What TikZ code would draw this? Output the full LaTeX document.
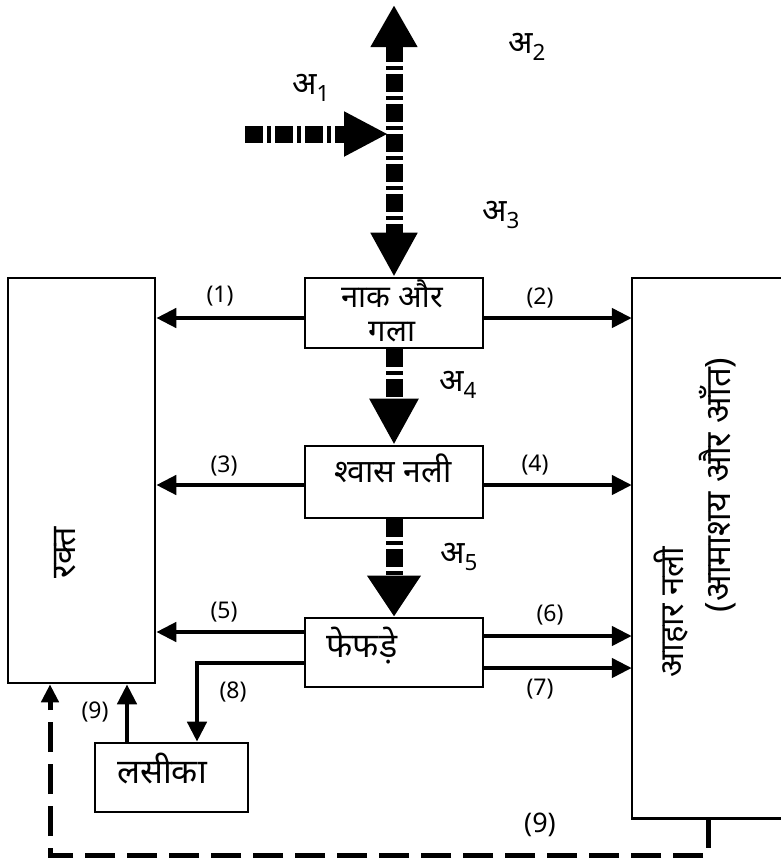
\documentclass[tikz,border=0pt]{standalone}
\usepackage{fontspec}
\newfontfamily\hindi[Script=Devanagari]{Noto Sans}
\usetikzlibrary{arrows.meta,calc}

\begin{document}
\begin{tikzpicture}[x=1pt,y=-1pt,
    box/.style={draw,line width=2.6pt,inner sep=0pt},
    boxline/.style={line width=2.6pt},
    word/.style={font=\hindi\fontsize{31}{38}\selectfont,inner sep=0pt},
    num/.style={font=\hindi\fontsize{23}{26}\selectfont,inner sep=0pt},
    sym/.style={font=\hindi\fontsize{32}{36}\selectfont,inner sep=0pt},
    flow/.style={line width=4.5pt,-{Triangle[length=20pt,width=19pt]}},
    airflow/.style={line width=17pt,dash pattern=on 18pt off 4pt on 4pt off 4pt},
    loopline/.style={line width=5pt,dash pattern=on 30pt off 12pt,-{Triangle[length=18pt,width=17pt]}}]
    \useasboundingbox (0,0) rectangle (781,863);

    % boxes
    \node[box,minimum width=147pt,minimum height=405pt] (blood) at (81.5,480.5) {};
    \node[word,rotate=90,font=\hindi\fontsize{34}{38}\selectfont] (bloodtext) at (65,553) {रक्त};

    % the right box runs off the page, so only three sides
    \node[inner sep=0pt,minimum width=149pt,minimum height=540pt] (gut) at (706.5,548) {};
    \draw[boxline] (gut.north east) -- (gut.north west) -- (gut.south west) -- (gut.south east);
    \node[word,rotate=90,font=\hindi\fontsize{33}{38}\selectfont] (guttext) at (671,612) {आहार नली};
    \node[word,rotate=90,font=\hindi\fontsize{35}{38}\selectfont] (gutnote) at (718,485) {(आमाशय और आँत)};

    \node[box,minimum width=178pt,minimum height=70pt] (nose) at (394,313) {};
    \node[word,align=center,font=\hindi\fontsize{31}{34}\selectfont] (nosetext) at (392,311) {नाक और\\गला};

    \node[box,minimum width=178pt,minimum height=72pt] (windpipe) at (394,482) {};
    \node[word,font=\hindi\fontsize{32}{36}\selectfont] (windtext) at (393,468) {श्वास नली};

    \node[box,minimum width=178pt,minimum height=69pt] (lungs) at (394,652.5) {};
    \node[word,font=\hindi\fontsize{34}{38}\selectfont] (lungtext) at (362,646) {फेफड़े};

    \node[box,minimum width=153pt,minimum height=69pt] (lymph) at (171.5,777.5) {};
    \node[word,font=\hindi\fontsize{34}{38}\selectfont] (lymphtext) at (162,768) {लसीका};

    % air path
    \coordinate (top) at (394,5);
    \coordinate (inlet) at (245,134);
    \coordinate (join) at (388,134);
    \draw[airflow,{Triangle[length=42pt,width=44pt]}-{Triangle[length=44pt,width=44pt]}] (top) -- (nose.north);
    \draw[airflow,-{Triangle[length=44pt,width=42pt]}] (inlet) -- (join);
    \draw[airflow,-{Triangle[length=46pt,width=46pt]}] (nose.south) -- (windpipe.north);
    \draw[airflow,-{Triangle[length=41pt,width=51pt]}] (windpipe.south) -- (lungs.north);

    \node[sym] (a1) at (311,88) {अ\textsubscript{1}};
    \node[sym] (a2) at (527,47) {अ\textsubscript{2}};
    \node[sym] (a3) at (501,215) {अ\textsubscript{3}};
    \node[sym] (a4) at (458,385) {अ\textsubscript{4}};
    \node[sym] (a5) at (459,557) {अ\textsubscript{5}};

    % solid connectors
    \draw[flow] ([yshift=-5pt]nose.west) -- ([yshift=-5pt]nose.west -| blood.east);
    \draw[flow] ([yshift=-5pt]nose.east) -- ([yshift=-5pt]nose.east -| gut.west);
    \draw[flow] ([yshift=-3pt]windpipe.west) -- ([yshift=-3pt]windpipe.west -| blood.east);
    \draw[flow] ([yshift=-3pt]windpipe.east) -- ([yshift=-3pt]windpipe.east -| gut.west);
    \draw[flow] ([yshift=20.5pt]lungs.west) -- ([yshift=20.5pt]lungs.west -| blood.east);
    \draw[flow] ([yshift=16.5pt]lungs.east) -- ([yshift=16.5pt]lungs.east -| gut.west);
    \draw[flow] ([yshift=-15.5pt]lungs.east) -- ([yshift=-15.5pt]lungs.east -| gut.west);
    \draw[flow] ([yshift=-10.5pt]lungs.west) -| ([xshift=25.5pt]lymph.north);
    \draw[flow] ([xshift=-44.5pt]lymph.north) -- ([xshift=-44.5pt]lymph.north |- blood.south);
    \draw[loopline] ([xshift=1.5pt]gut.south) -- ++(0,37) -| ([xshift=-31.5pt]blood.south);

    \node[num] at (220,296) {(1)};
    \node[num] at (540,298) {(2)};
    \node[num] at (224,466) {(3)};
    \node[num] at (535,465) {(4)};
    \node[num] at (224,612) {(5)};
    \node[num] at (550,615) {(6)};
    \node[num] at (540,689) {(7)};
    \node[num] at (233,692) {(8)};
    \node[num] at (95,712) {(9)};
    \node[num,font=\hindi\fontsize{27}{30}\selectfont] at (540,825) {(9)};
\end{tikzpicture}
\end{document}
